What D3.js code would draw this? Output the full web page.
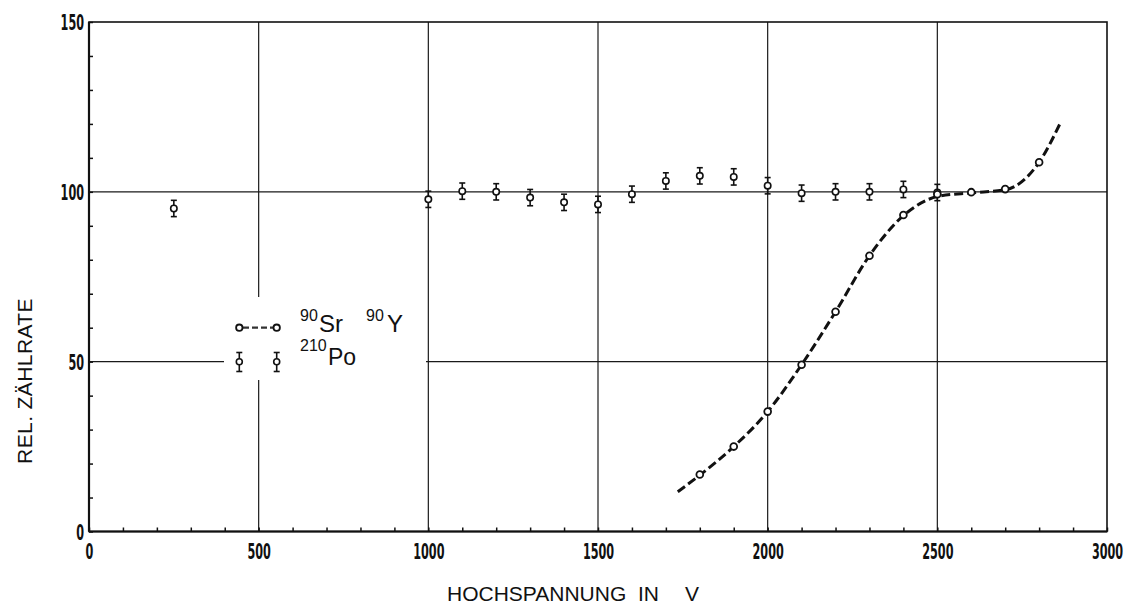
<!DOCTYPE html>
<html>
<head>
  <meta charset="utf-8">
  <script src="https://cdn.jsdelivr.net/npm/d3@7"></script>
  <style type="text/css">
    body { margin: 0; background: #fff; }
    svg { display: block; }
    .tick-label { font-family: "Liberation Sans Narrow", "DejaVu Sans Condensed", sans-serif; font-weight: bold; font-size: 22px; fill: #111; }
    .title { font-family: "Liberation Sans", Arial, sans-serif; font-size: 21px; fill: #111; }
    .legend-text { font-family: "Liberation Sans", Arial, sans-serif; fill: #111; }
  </style>
</head>
<body>
<script type="text/javascript">

  // ---- data ----
  // 210Po measurements (with error bars)
  const poX = [250, 1000, 1100, 1200, 1300, 1400, 1500, 1600, 1700, 1800, 1900, 2000, 2100, 2200, 2300, 2400, 2500];
  const poY = [95.1, 97.8, 100.2, 100.0, 98.3, 96.9, 96.3, 99.3, 103.2, 104.7, 104.4, 101.8, 99.6, 100.0, 100.0, 100.7, 99.8];
  const poErr = [2.4, 2.4, 2.4, 2.4, 2.4, 2.4, 2.4, 2.4, 2.4, 2.4, 2.4, 2.4, 2.4, 2.4, 2.4, 2.4, 2.4];

  // 90Sr/90Y measurements
  const srX = [1800, 1900, 2000, 2100, 2200, 2300, 2400, 2500, 2600, 2700, 2800];
  const srY = [16.8, 25.0, 35.3, 49.1, 64.7, 81.2, 93.2, 99.3, 99.9, 100.8, 108.7];

  // hand drawn dashed curve through the 90Sr/90Y points
  const curveX = [1735, 1800, 1900, 2000, 2100, 2200, 2300, 2400, 2500, 2600, 2700, 2800, 2865];
  const curveY = [11.7, 16.6, 25.0, 35.3, 49.1, 64.7, 81.2, 93.0, 98.6, 99.7, 100.6, 108.7, 120.8];

  const xMajor = [0, 500, 1000, 1500, 2000, 2500, 3000];
  const yMajor = [0, 50, 100, 150];
  const xMinor = d3.range(0, 3001, 100);
  const yMinor = d3.range(0, 151, 10);

  const W = 1125, H = 607;
  const plot = {left: 89, right: 1107, top: 22, bottom: 531.5};

  const svg = d3.select('body').append('svg')
    .attr('width', W)
    .attr('height', H);

  const x = d3.scaleLinear().domain([0, 3000]).range([plot.left, plot.right]);
  const y = d3.scaleLinear().domain([0, 150]).range([plot.bottom, plot.top]);

  // gridlines
  const grid = svg.append('g').attr('stroke', '#1a1a1a').attr('stroke-width', 1.2);
  grid.selectAll('line.vx').data(xMajor.slice(1, -1)).enter().append('line')
    .attr('x1', d => x(d)).attr('x2', d => x(d))
    .attr('y1', plot.top).attr('y2', plot.bottom);
  grid.selectAll('line.hy').data(yMajor.slice(1, -1)).enter().append('line')
    .attr('x1', plot.left).attr('x2', plot.right)
    .attr('y1', d => y(d)).attr('y2', d => y(d));

  // minor ticks pointing inward
  const minorX = d3.axisBottom(x).tickValues(xMinor).tickSize(-4).tickFormat('');
  const minorY = d3.axisLeft(y).tickValues(yMinor).tickSize(-4).tickFormat('');
  svg.append('g').attr('transform', `translate(0,${plot.bottom})`).call(minorX)
    .call(g => g.select('.domain').remove())
    .selectAll('line').attr('stroke', '#111').attr('stroke-width', 1.5);
  svg.append('g').attr('transform', `translate(${plot.left},0)`).call(minorY)
    .call(g => g.select('.domain').remove())
    .selectAll('line').attr('stroke', '#111').attr('stroke-width', 1.5);

  // tick labels
  const axX = d3.axisBottom(x).tickValues(xMajor).tickSize(0).tickFormat(d3.format('d'));
  svg.append('g').attr('transform', `translate(0,${plot.bottom})`).call(axX)
    .call(g => g.select('.domain').remove())
    .selectAll('text')
      .attr('class', 'tick-label')
      .attr('y', 27).attr('dy', 0)
      .attr('textLength', d => String(d).length * 7.8)
      .attr('lengthAdjust', 'spacingAndGlyphs');
  const axY = d3.axisLeft(y).tickValues(yMajor).tickSize(0).tickFormat(d3.format('d'));
  svg.append('g').attr('transform', `translate(${plot.left},0)`).call(axY)
    .call(g => g.select('.domain').remove())
    .selectAll('text')
      .attr('class', 'tick-label')
      .attr('x', -5).attr('dy', '0.36em')
      .attr('textLength', d => String(d).length * 7.8)
      .attr('lengthAdjust', 'spacingAndGlyphs');

  // frame
  svg.append('rect')
    .attr('x', plot.left).attr('y', plot.top)
    .attr('width', plot.right - plot.left).attr('height', plot.bottom - plot.top)
    .attr('fill', 'none').attr('stroke', '#111').attr('stroke-width', 1.6);
  svg.append('line').attr('x1', plot.left).attr('x2', plot.left).attr('y1', plot.top).attr('y2', plot.bottom)
    .attr('stroke', '#111').attr('stroke-width', 2.2);
  svg.append('line').attr('x1', plot.left).attr('x2', plot.right).attr('y1', plot.bottom).attr('y2', plot.bottom)
    .attr('stroke', '#111').attr('stroke-width', 2.2);

  // dashed curve
  const curveData = curveX.map((v, i) => [v, curveY[i]]);
  const line = d3.line().x(d => x(d[0])).y(d => y(d[1])).curve(d3.curveMonotoneX);
  svg.append('path').datum(curveData)
    .attr('d', line)
    .attr('fill', 'none').attr('stroke', '#111')
    .attr('stroke-width', 3).attr('stroke-dasharray', '9,4');

  // error bar marker
  function errorBar(g, cx, cy, up, down, r) {
    g.append('line').attr('x1', cx).attr('x2', cx).attr('y1', up).attr('y2', down)
      .attr('stroke', '#111').attr('stroke-width', 1.6);
    g.append('line').attr('x1', cx - 3).attr('x2', cx + 3).attr('y1', up).attr('y2', up)
      .attr('stroke', '#111').attr('stroke-width', 1.6);
    g.append('line').attr('x1', cx - 3).attr('x2', cx + 3).attr('y1', down).attr('y2', down)
      .attr('stroke', '#111').attr('stroke-width', 1.6);
    g.append('circle').attr('cx', cx).attr('cy', cy).attr('r', r)
      .attr('fill', '#fff').attr('stroke', '#111').attr('stroke-width', 1.6);
  }

  const poG = svg.append('g');
  poX.forEach((v, i) => {
    errorBar(poG, x(v), y(poY[i]), y(poY[i] + poErr[i]), y(poY[i] - poErr[i]), 3.2);
  });

  svg.append('g').selectAll('circle').data(srX).enter().append('circle')
    .attr('cx', d => x(d))
    .attr('cy', (d, i) => y(srY[i]))
    .attr('r', 3.4)
    .attr('fill', '#fff').attr('stroke', '#111').attr('stroke-width', 1.8);

  // legend (white box hides the grid behind it)
  const leg = svg.append('g');
  leg.append('rect').attr('x', 224).attr('y', 297).attr('width', 202).attr('height', 83).attr('fill', '#fff');
  leg.append('line').attr('x1', 243).attr('x2', 273).attr('y1', 327.7).attr('y2', 327.7)
    .attr('stroke', '#333').attr('stroke-width', 2.2).attr('stroke-dasharray', '6,3');
  [239.3, 276.7].forEach(cx => {
    leg.append('circle').attr('cx', cx).attr('cy', 327.7).attr('r', 3.2)
      .attr('fill', '#fff').attr('stroke', '#111').attr('stroke-width', 1.8);
    errorBar(leg, cx, 361.7, 352.5, 371.5, 3);
  });

  const t1 = leg.append('text').attr('class', 'legend-text');
  t1.append('tspan').attr('x', 300).attr('y', 321).attr('font-size', 16).text('90');
  t1.append('tspan').attr('x', 319).attr('y', 332).attr('font-size', 24).text('Sr');
  const t2 = leg.append('text').attr('class', 'legend-text');
  t2.append('tspan').attr('x', 366).attr('y', 321).attr('font-size', 16).text('90');
  t2.append('tspan').attr('x', 387).attr('y', 332).attr('font-size', 24).text('Y');
  const t3 = leg.append('text').attr('class', 'legend-text');
  t3.append('tspan').attr('x', 300).attr('y', 350.5).attr('font-size', 16).text('210');
  t3.append('tspan').attr('x', 328).attr('y', 365).attr('font-size', 23).text('Po');

  // axis titles
  svg.append('text').attr('class', 'title')
    .attr('transform', 'translate(32,381) rotate(-90)')
    .attr('text-anchor', 'middle')
    .attr('letter-spacing', 0.4)
    .text('REL. ZÄHLRATE');
  svg.append('text').attr('class', 'title').attr('x', 447).attr('y', 601).text('HOCHSPANNUNG');
  svg.append('text').attr('class', 'title').attr('x', 638).attr('y', 601).text('IN');
  svg.append('text').attr('class', 'title').attr('x', 685).attr('y', 601).text('V');

</script>
</body>
</html>
